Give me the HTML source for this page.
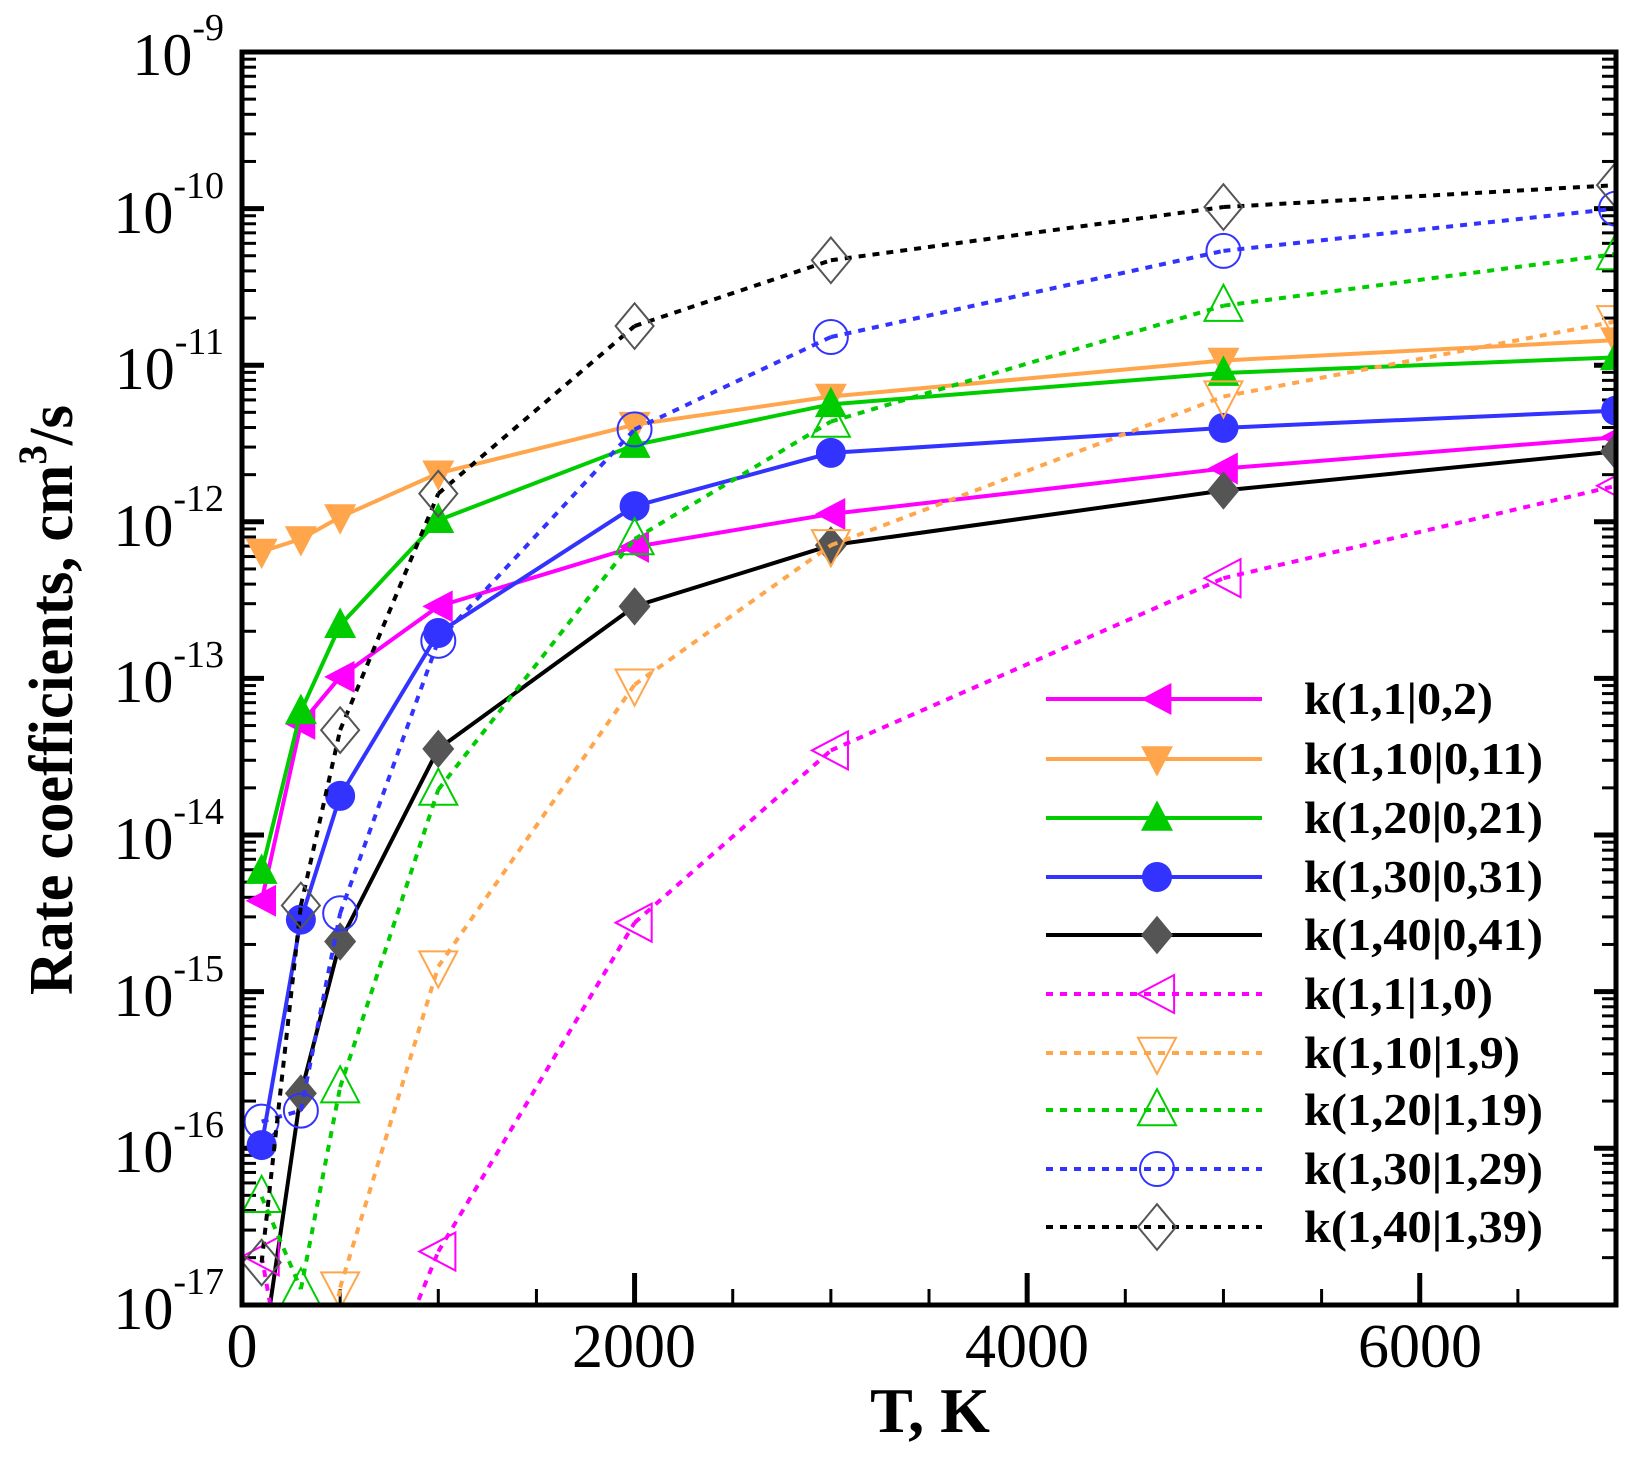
<!DOCTYPE html>
<html><head><meta charset="utf-8"><style>
html,body{margin:0;padding:0;background:#fff;overflow:hidden;width:1648px;height:1457px;}
svg{display:block;font-family:"Liberation Serif",serif;}
</style></head><body>
<svg id="s" width="1648" height="1457" viewBox="0 0 1648 1457" xmlns="http://www.w3.org/2000/svg">
<defs><clipPath id="c"><rect x="242" y="52" width="1374" height="1253"/></clipPath></defs>
<g id="ticks" stroke="#000" fill="none"></g>
<g id="series" clip-path="url(#c)"></g>
<g id="legend"></g>
<rect x="242" y="52" width="1374" height="1253" fill="none" stroke="#000" stroke-width="5"/>
<g font-size="60" text-anchor="end">
<text x="224" y="75">10<tspan font-size="38" dy="-35">-9</tspan></text>
<text x="224" y="233">10<tspan font-size="38" dy="-35">-10</tspan></text>
<text x="224" y="389">10<tspan font-size="38" dy="-35">-11</tspan></text>
<text x="224" y="546">10<tspan font-size="38" dy="-35">-12</tspan></text>
<text x="224" y="702">10<tspan font-size="38" dy="-35">-13</tspan></text>
<text x="224" y="859">10<tspan font-size="38" dy="-35">-14</tspan></text>
<text x="224" y="1016">10<tspan font-size="38" dy="-35">-15</tspan></text>
<text x="224" y="1172">10<tspan font-size="38" dy="-35">-16</tspan></text>
<text x="224" y="1329">10<tspan font-size="38" dy="-35">-17</tspan></text>
</g>
<g font-size="62" text-anchor="middle">
<text x="242" y="1367">0</text>
<text x="634" y="1367">2000</text>
<text x="1027" y="1367">4000</text>
<text x="1420" y="1367">6000</text>
</g>
<text x="930" y="1432" font-size="64" font-weight="bold" text-anchor="middle">T, K</text>
<text transform="translate(72,700) rotate(-90)" font-size="62" font-weight="bold" text-anchor="middle" textLength="590" lengthAdjust="spacingAndGlyphs">Rate coefficients, cm<tspan font-size="40" dy="-26">3</tspan><tspan dy="26">/s</tspan></text>
<g font-size="46" font-weight="bold">
<text x="1304" y="714" textLength="189" lengthAdjust="spacingAndGlyphs">k(1,1|0,2)</text>
<text x="1304" y="774" textLength="239" lengthAdjust="spacingAndGlyphs">k(1,10|0,11)</text>
<text x="1304" y="833" textLength="239" lengthAdjust="spacingAndGlyphs">k(1,20|0,21)</text>
<text x="1304" y="892" textLength="239" lengthAdjust="spacingAndGlyphs">k(1,30|0,31)</text>
<text x="1304" y="950" textLength="239" lengthAdjust="spacingAndGlyphs">k(1,40|0,41)</text>
<text x="1304" y="1009" textLength="189" lengthAdjust="spacingAndGlyphs">k(1,1|1,0)</text>
<text x="1304" y="1068" textLength="216" lengthAdjust="spacingAndGlyphs">k(1,10|1,9)</text>
<text x="1304" y="1125" textLength="239" lengthAdjust="spacingAndGlyphs">k(1,20|1,19)</text>
<text x="1304" y="1184" textLength="239" lengthAdjust="spacingAndGlyphs">k(1,30|1,29)</text>
<text x="1304" y="1242" textLength="239" lengthAdjust="spacingAndGlyphs">k(1,40|1,39)</text>
</g>
</svg>
<script>
const NS="http://www.w3.org/2000/svg";
const X=t=>242+t*0.19629, Y=l=>52+(-9-l)*156.6;
function el(p,n,a){const e=document.createElementNS(NS,n);for(const k in a)e.setAttribute(k,a[k]);p.appendChild(e);return e;}
const tk=document.getElementById('ticks');
for(let d=-17;d<-9;d++){
  for(let m=1;m<=9;m++){
    const y=Y(d+Math.log10(m));
    const L=m==1?22:14, w=m==1?5:3;
    if(m==1 && d==-17) continue;
    el(tk,'line',{x1:242,x2:242+L,y1:y,y2:y,'stroke-width':w});
    el(tk,'line',{x1:1616,x2:1616-L,y1:y,y2:y,'stroke-width':w});
  }
}
for(let t=500;t<7000;t+=500){
  const maj=t%2000==0;
  el(tk,'line',{x1:X(t),x2:X(t),y1:1305,y2:1305-(maj?32:16),'stroke-width':maj?5:3});
}
const T=[100,300,500,1000,2000,3000,5000,7000];
const S=[
 {c:'#ff00ff',d:0,m:'L',v:[-14.42,-13.29,-12.99,-12.54,-12.16,-11.95,-11.66,-11.46]},
 {c:'#ffa64d',d:0,m:'V',v:[-12.19,-12.11,-11.97,-11.69,-11.38,-11.2,-10.97,-10.84]},
 {c:'#00cc00',d:0,m:'A',v:[-14.23,-13.21,-12.66,-11.99,-11.51,-11.25,-11.05,-10.95]},
 {c:'#3333ff',d:0,m:'O',v:[-15.98,-14.54,-13.75,-12.71,-11.9,-11.56,-11.4,-11.29]},
 {c:'#000',fc:'#555',d:0,m:'D',v:[-17.37,-15.65,-14.68,-13.45,-12.54,-12.15,-11.8,-11.55]},
 {c:'#ff00ff',d:1,m:'L',v:[-16.69,-18.1,-18.2,-16.66,-14.56,-13.46,-12.36,-11.77]},
 {c:'#ffa64d',d:1,m:'V',v:[-19,-18.5,-16.89,-14.84,-13.04,-12.15,-11.2,-10.72]},
 {c:'#00cc00',d:1,m:'A',v:[-16.31,-16.9,-15.61,-13.71,-12.11,-11.36,-10.62,-10.29]},
 {c:'#3333ff',d:1,m:'O',v:[-15.83,-15.76,-14.5,-12.76,-11.41,-10.82,-10.27,-10.0]},
 {c:'#000',mc:'#555',d:1,m:'D',v:[-16.73,-14.45,-13.33,-11.82,-10.75,-10.33,-9.99,-9.85]}
];
function marker(g,type,x,y,s,open){
  const r=open?19:16;
  const a=open?{fill:'none',stroke:s.mc||s.c,'stroke-width':2}:{fill:s.fc||s.c,stroke:'none'};
  let p;
  if(type=='O'){el(g,'circle',Object.assign({cx:x,cy:y,r:open?17:15},a));return;}
  if(type=='L')p=[[x-r,y],[x+r*0.9,y-r],[x+r*0.9,y+r]];
  if(type=='V')p=[[x-r,y-r*0.8],[x+r,y-r*0.8],[x,y+r*1.1]];
  if(type=='A')p=[[x-r,y+r*0.8],[x+r,y+r*0.8],[x,y-r*1.1]];
  if(type=='D')p=[[x,y-r*1.2],[x+r,y],[x,y+r*1.2],[x-r,y]];
  el(g,'polygon',Object.assign({points:p.map(q=>q.join(',')).join(' ')},a));
}
const FL=-17.3;
const sg=document.getElementById('series'), lg=document.getElementById('legend');
S.forEach((s,i)=>{
  const la={fill:'none',stroke:s.c,'stroke-width':4};
  if(s.d)la['stroke-dasharray']='7,7';
  for(let j=0;j<T.length-1;j++){
    let t1=T[j],v1=s.v[j],t2=T[j+1],v2=s.v[j+1];
    if(v1<FL&&v2<FL)continue;
    if(v1<FL){t1=t1+(t2-t1)*(FL-v1)/(v2-v1);v1=FL;}
    if(v2<FL){t2=t1+(t2-t1)*(FL-v1)/(v2-v1);v2=FL;}
    el(sg,'line',Object.assign({x1:X(t1),y1:Y(v1),x2:X(t2),y2:Y(v2)},la));
  }
  T.forEach((t,j)=>{if(s.v[j]>=FL)marker(sg,s.m,X(t),Y(s.v[j]),s,s.d);});
  const ly=[699,759,818,877,935,994,1053,1110,1169,1227][i];
  el(lg,'line',Object.assign({x1:1046,x2:1262,y1:ly,y2:ly},la));
  marker(lg,s.m,1157,ly,s,s.d);
});
</script>
</body></html>
